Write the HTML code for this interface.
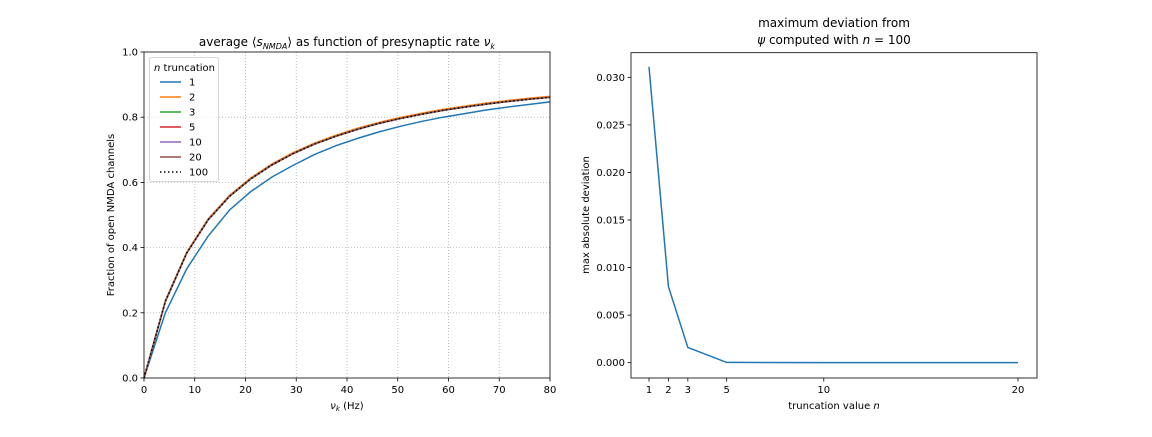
<!DOCTYPE html>
<html><head><meta charset="utf-8"><style>
body{margin:0;background:#fff;font-family:"Liberation Sans","DejaVu Sans",sans-serif}
svg text{font-family:"DejaVu Sans","Liberation Sans",sans-serif;fill:#000}
</style></head><body>
<svg id="fig" width="1152" height="432" xmlns="http://www.w3.org/2000/svg"></svg>
<script>
const rateX=[0,4.21,8.42,12.63,16.84,21.05,25.26,29.47,33.68,37.89,42.1,46.3,50.5,54.7,58.9,63.2,67.4,71.6,75.8,80];
const sN1=[0,.20,.335,.435,.515,.572,.617,.653,.686,.713,.735,.755,.772,.787,.800,.811,.822,.831,.839,.847];
const sN2=[0,.238,.386,.488,.560,.614,.657,.692,.721,.745,.766,.784,.799,.812,.824,.834,.843,.851,.858,.864];
const sN100=[0,.235,.383,.485,.557,.611,.654,.689,.718,.742,.763,.781,.796,.809,.821,.831,.840,.848,.855,.861];
const seriesLabels=['1','2','3','5','10','20','100'];
const leftXTicks=[0,10,20,30,40,50,60,70,80];
const leftYTicks=[0,0.2,0.4,0.6,0.8,1.0];
const truncN=[1,2,3,5,10,20];
const maxDev=[0.0311,0.0080,0.0016,0.00003,0.00001,0.000005];
const rightYTicks=[0,0.005,0.010,0.015,0.020,0.025,0.030];

const NS='http://www.w3.org/2000/svg';
const svg=document.getElementById('fig');
function mk(tag,attrs,parent,text){const e=document.createElementNS(NS,tag);for(const k in attrs)e.setAttribute(k,attrs[k]);if(text!==undefined)e.textContent=text;(parent||svg).appendChild(e);return e;}
const L={x0:144,x1:550,y0:378,y1:52};
const lx=v=>L.x0+(v-0)/80*(L.x1-L.x0);
const ly=v=>L.y0-(v-0)/1*(L.y0-L.y1);
const gL=mk('g',{});


leftXTicks.forEach(t=>{const x=lx(t);
 if(t>0&&t<80){const g=mk('line',{x1:x,x2:x,y1:L.y1,y2:L.y0,stroke:'#b0b0b0','stroke-width':0.8,'stroke-dasharray':'1,2'},gL);}
 mk('line',{x1:x,x2:x,y1:L.y0,y2:L.y0+3.5,stroke:'#000','stroke-width':0.8},gL);
 const tx=mk('text',{x:x,y:L.y0+15,'font-size':10,'text-anchor':'middle'},gL,String(t));});
leftYTicks.forEach(t=>{const y=ly(t);
 if(t>0&&t<1){const g=mk('line',{x1:L.x0,x2:L.x1,y1:y,y2:y,stroke:'#b0b0b0','stroke-width':0.8,'stroke-dasharray':'1,2'},gL);}
 mk('line',{x1:L.x0-3.5,x2:L.x0,y1:y,y2:y,stroke:'#000','stroke-width':0.8},gL);
 const tx=mk('text',{x:L.x0-6,y:y+3.5,'font-size':10,'text-anchor':'end'},gL,t.toFixed(1));});
const colors=['#1f77b4','#ff7f0e','#2ca02c','#d62728','#9467bd','#8c564b','#000'];
const curves=[sN1,sN2,sN100,sN100,sN100,sN100,sN100];
const pathOf=(xs,ys,fx,fy)=>xs.map((v,i)=>(i?'L':'M')+fx(v).toFixed(2)+','+fy(ys[i]).toFixed(2)).join(' ');
curves.forEach((c,i)=>{const p=mk('path',{d:pathOf(rateX,c,lx,ly),fill:'none',stroke:colors[i],'stroke-width':1.5},gL);
 if(i===6)p.setAttribute('stroke-dasharray','1.5,2.5');
 });
mk('rect',{x:L.x0,y:L.y1,width:L.x1-L.x0,height:L.y0-L.y1,fill:'none',stroke:'#000','stroke-width':0.8},gL);
let t=mk('text',{x:347,y:46,'font-size':12,'text-anchor':'middle'},gL);t.innerHTML='average ⟨<tspan font-style="italic">s</tspan><tspan font-style="italic" font-size="8" dy="3">NMDA</tspan><tspan dy="-3">⟩ as function of presynaptic rate </tspan><tspan font-style="italic">ν</tspan><tspan font-style="italic" font-size="8" dy="3">k</tspan>';

t=mk('text',{x:347,y:409,'font-size':10,'text-anchor':'middle'},gL);t.innerHTML='<tspan font-style="italic">ν</tspan><tspan font-style="italic" font-size="7" dy="2">k</tspan><tspan dy="-2"> (Hz)</tspan>';

t=mk('text',{x:114,y:215,'font-size':10,'text-anchor':'middle',transform:'rotate(-90 114 215)'},gL,'Fraction of open NMDA channels');

const lg=mk('g',{},gL);
mk('rect',{x:149.5,y:57.5,width:69,height:124,rx:2,fill:'#fff','fill-opacity':0.8,stroke:'#ccc','stroke-width':0.8},lg);
t=mk('text',{x:154,y:71,'font-size':10},lg);t.innerHTML='<tspan font-style="italic">n</tspan> truncation';
seriesLabels.forEach((s,i)=>{const y=82+i*15;
 const l=mk('line',{x1:160,x2:181,y1:y,y2:y,stroke:colors[i],'stroke-width':1.5},lg);if(i===6)l.setAttribute('stroke-dasharray','1.5,2.5');
 const tx=mk('text',{x:189,y:y+3.5,'font-size':10},lg,s);});
const R={x0:631,x1:1037,y0:378,y1:52.7};
const rx=v=>649+(v-1)/19*(1018-649);
const ry=v=>362.7-v/0.030*(362.7-77.3);
const gR=mk('g',{});
truncN.forEach(n=>{const x=rx(n);mk('line',{x1:x,x2:x,y1:R.y0,y2:R.y0+3.5,stroke:'#000','stroke-width':0.8},gR);
 const tx=mk('text',{x:x,y:R.y0+15,'font-size':10,'text-anchor':'middle'},gR,String(n));});
rightYTicks.forEach(v=>{const y=ry(v);mk('line',{x1:R.x0-3.5,x2:R.x0,y1:y,y2:y,stroke:'#000','stroke-width':0.8},gR);
 const tx=mk('text',{x:R.x0-6,y:y+3.5,'font-size':10,'text-anchor':'end'},gR,v.toFixed(3));});
const dl=mk('path',{d:pathOf(truncN,maxDev,rx,ry),fill:'none',stroke:'#1f77b4','stroke-width':1.5},gR);

mk('rect',{x:R.x0,y:R.y1,width:R.x1-R.x0,height:R.y0-R.y1,fill:'none',stroke:'#000','stroke-width':0.8},gR);
t=mk('text',{x:834,y:27,'font-size':12,'text-anchor':'middle'},gR,'maximum deviation from');
t=mk('text',{x:834,y:44,'font-size':12,'text-anchor':'middle'},gR);t.innerHTML='<tspan font-style="italic">ψ</tspan> computed with <tspan font-style="italic">n</tspan> = 100';
t=mk('text',{x:834,y:409,'font-size':10,'text-anchor':'middle'},gR);t.innerHTML='truncation value <tspan font-style="italic">n</tspan>';

t=mk('text',{x:589,y:215,'font-size':10,'text-anchor':'middle',transform:'rotate(-90 589 215)'},gR,'max absolute deviation');

</script>
</body></html>
